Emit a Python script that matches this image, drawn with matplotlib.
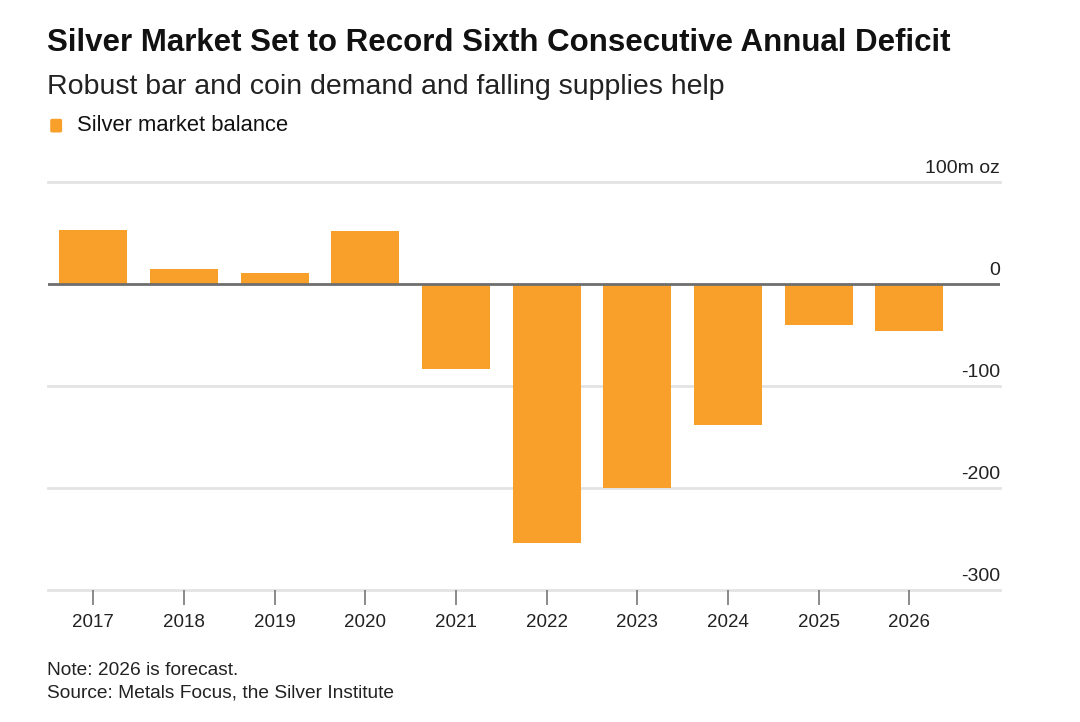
import matplotlib
matplotlib.use("Agg")
import matplotlib.pyplot as plt
from matplotlib.patches import FancyBboxPatch
from matplotlib.transforms import blended_transform_factory

# Datos (millones de onzas)
years = ["2017", "2018", "2019", "2020", "2021", "2022", "2023", "2024", "2025", "2026"]
balance = [53, 15, 11, 52, -83, -254, -200, -138, -40, -46]
y_ticks = [100, 0, -100, -200, -300]
y_labels = ["100m oz", "0", "-100", "-200", "-300"]

orange = "#F9A02B"
grid_color = "#E3E3E3"

plt.rcParams["font.family"] = ["Liberation Sans", "DejaVu Sans"]

fig = plt.figure(figsize=(10.8, 7.22), dpi=100)
ax = fig.add_axes([0.0444, 0.1828, 0.8815, 0.5651])

x = list(range(len(years)))
ax.bar(x, balance, width=0.75, color=orange, zorder=2)

ax.set_xlim(-0.5, 10.0)
ax.set_ylim(-300, 100)

# lineas de la cuadricula
for v in y_ticks:
    if v == 0:
        ax.axhline(0, color="#6E6E6E", lw=2.0, zorder=3)
    else:
        ax.axhline(v, color=grid_color, lw=2.0, zorder=1, clip_on=False)

# etiquetas del eje y encima de las lineas
trans = blended_transform_factory(ax.transAxes, ax.transData)
for v, lab in zip(y_ticks, y_labels):
    ax.text(1.0, v + 5, lab, transform=trans, ha="right", va="bottom",
            fontsize=14, color="#222222")

ax.set_yticks([])
ax.set_xticks(x)
ax.set_xticklabels(years, fontsize=13.5, color="#222222")
ax.tick_params(axis="x", length=11, width=1.2, color="#777777", pad=6)

for s in ["top", "right", "left", "bottom"]:
    ax.spines[s].set_visible(False)

# titulos
fig.text(0.0435, 0.941, "Silver Market Set to Record Sixth Consecutive Annual Deficit",
         fontsize=22.5, fontweight="bold", ha="left", va="center", color="#111111")
fig.text(0.0435, 0.880, "Robust bar and coin demand and falling supplies help",
         fontsize=20.5, ha="left", va="center", color="#222222")

# leyenda
fig.patches.append(FancyBboxPatch((0.0465, 0.8165), 0.011, 0.019,
                                  boxstyle="round,pad=0,rounding_size=0.002",
                                  transform=fig.transFigure,
                                  facecolor=orange, edgecolor="none"))
fig.text(0.071, 0.826, "Silver market balance", fontsize=15.8, ha="left", va="center",
         color="#111111")

# notas
fig.text(0.0435, 0.071, "Note: 2026 is forecast.", fontsize=13.8, ha="left", va="center",
         color="#222222")
fig.text(0.0435, 0.040, "Source: Metals Focus, the Silver Institute", fontsize=13.8,
         ha="left", va="center", color="#222222")

fig.savefig("out.png", dpi=100, facecolor="white")
